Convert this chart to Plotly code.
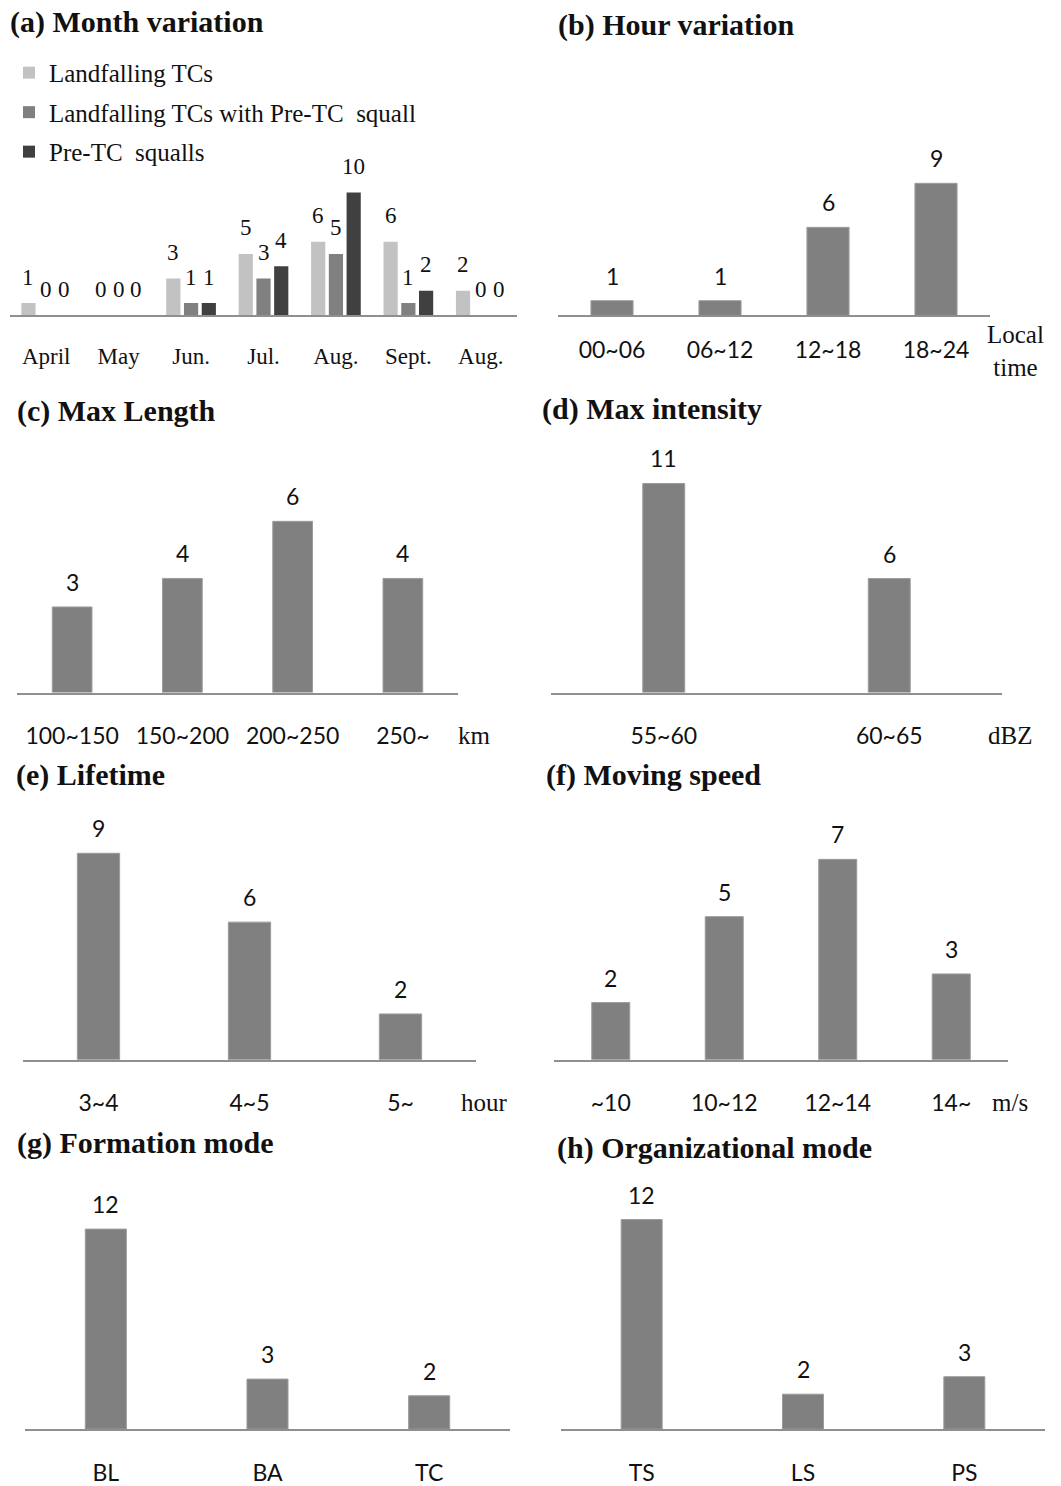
import plotly.graph_objects as go

W, H = 1061, 1486

# ---------------- data ----------------
months = ["April", "May", "Jun.", "Jul.", "Aug.", "Sept.", "Aug."]
series_names = ["Landfalling TCs", "Landfalling TCs with Pre-TC  squall", "Pre-TC  squalls"]
landfalling_tcs = [1, 0, 3, 5, 6, 6, 2]
landfalling_with_squall = [0, 0, 1, 3, 5, 1, 0]
pre_tc_squalls = [0, 0, 1, 4, 10, 2, 0]

hour_cats = ["00~06", "06~12", "12~18", "18~24"]
hour_vals = [1, 1, 6, 9]

length_cats = ["100~150", "150~200", "200~250", "250~"]
length_vals = [3, 4, 6, 4]

intensity_cats = ["55~60", "60~65"]
intensity_vals = [11, 6]

lifetime_cats = ["3~4", "4~5", "5~"]
lifetime_vals = [9, 6, 2]

speed_cats = ["~10", "10~12", "12~14", "14~"]
speed_vals = [2, 5, 7, 3]

formation_cats = ["BL", "BA", "TC"]
formation_vals = [12, 3, 2]

org_cats = ["TS", "LS", "PS"]
org_vals = [12, 2, 3]

# ---------------- styling ----------------
SERIF = "Liberation Serif, Times New Roman, serif"
SANS = "Lato, Open Sans, sans-serif"
TXT = "#111111"
AXIS_COL = "#8f8f8f"
MONTH_COLS = ["#c2c2c2", "#808080", "#404040"]
BAR_COL = "#808080"
SANS_SIZE = 23

fig = go.Figure()
annotations = []


def px_dom_x(x0, x1):
    return [x0 / W, x1 / W]


def setup_axes(idx, x0, x1, yb, k, top_px, tick_font, standoff, numeric=None):
    xname = "xaxis" if idx == 1 else f"xaxis{idx}"
    yname = "yaxis" if idx == 1 else f"yaxis{idx}"
    xa = dict(domain=px_dom_x(x0, x1), anchor=f"y{idx}" if idx > 1 else "y",
              showline=True, linecolor=AXIS_COL, linewidth=2, showgrid=False,
              zeroline=False, ticks="", tickfont=tick_font,
              ticklabelstandoff=standoff, fixedrange=True)
    if numeric is not None:
        xa.update(type="linear", range=[-0.5, len(numeric) - 0.5],
                  tickvals=list(range(len(numeric))), ticktext=numeric)
    else:
        xa.update(type="category")
    ya = dict(domain=[1 - yb / H, 1 - top_px / H], anchor=f"x{idx}" if idx > 1 else "x",
              range=[0, (yb - top_px) / k], visible=False, fixedrange=True)
    fig.layout[xname] = xa
    fig.layout[yname] = ya


def add_title(text, x_px, y_px):
    annotations.append(dict(text=f"<b>{text}</b>", x=x_px / W, y=1 - y_px / H,
                            xref="paper", yref="paper", xanchor="left", yanchor="middle",
                            showarrow=False, font=dict(family=SERIF, size=30, color=TXT)))


def add_unit(text, x_px, y_px, size=25):
    annotations.append(dict(text=text, x=x_px / W, y=1 - y_px / H,
                            xref="paper", yref="paper", xanchor="center", yanchor="middle",
                            showarrow=False, font=dict(family=SERIF, size=size, color=TXT)))


def single_panel(idx, cats, vals, x0, x1, yb, k, barw, standoff):
    setup_axes(idx, x0, x1, yb, k, yb - 240, dict(family=SANS, size=SANS_SIZE, color=TXT), standoff)
    xr = "x" if idx == 1 else f"x{idx}"
    yr = "y" if idx == 1 else f"y{idx}"
    fig.add_trace(go.Bar(x=cats, y=vals, xaxis=xr, yaxis=yr, width=barw,
                         marker=dict(color=BAR_COL, line=dict(color="#9c9c9c", width=1)),
                         showlegend=False, hoverinfo="skip"))
    for c, v in zip(cats, vals):
        annotations.append(dict(text=str(v), x=c, y=v, xref=xr, yref=yr,
                                yanchor="middle", yshift=25, showarrow=False,
                                font=dict(family=SANS, size=SANS_SIZE, color=TXT)))


# ---------------- panel (a) ----------------
setup_axes(1, 10, 517, 316, 12.3, 176, dict(family=SERIF, size=23, color=TXT), 19, numeric=months)
month_series = [landfalling_tcs, landfalling_with_squall, pre_tc_squalls]
pitch = 0.245
for s, (name, vals, col) in enumerate(zip(series_names, month_series, MONTH_COLS)):
    fig.add_trace(go.Bar(x=list(range(len(months))), y=vals, name=name, xaxis="x", yaxis="y",
                         marker=dict(color=col, line=dict(width=0)),
                         legendgroup=f"g{s}", hoverinfo="skip"))
    for i, v in enumerate(vals):
        annotations.append(dict(text=str(v), x=i + (s - 1) * pitch, y=v, xref="x", yref="y",
                                yanchor="middle", yshift=26, showarrow=False,
                                font=dict(family=SERIF, size=23, color=TXT)))
add_title("(a) Month variation", 8, 22)

# ---------------- other panels ----------------
single_panel(2, hour_cats, hour_vals, 558, 990, 316, 14.7, 0.39, 13)
add_title("(b) Hour variation", 556, 25)
add_unit("Local<br>time", 1015, 352)

single_panel(3, length_cats, length_vals, 17, 458, 694, 28.6, 0.36, 22)
add_title("(c) Max Length", 15, 412)
add_unit("km", 474, 737)

single_panel(4, intensity_cats, intensity_vals, 551, 1002, 694, 19.05, 0.186, 22)
add_title("(d) Max intensity", 540, 410)
add_unit("dBZ", 1010, 737)

single_panel(5, lifetime_cats, lifetime_vals, 23, 476, 1062, 23.0, 0.28, 22)
add_title("(e) Lifetime", 14, 777)
add_unit("hour", 484, 1105)

single_panel(6, speed_cats, speed_vals, 554, 1008, 1062, 28.7, 0.335, 22)
add_title("(f) Moving speed", 544, 777)
add_unit("m/s", 1010, 1105)

single_panel(7, formation_cats, formation_vals, 25, 510, 1432, 16.7, 0.254, 22)
add_title("(g) Formation mode", 15, 1145)

single_panel(8, org_cats, org_vals, 561, 1045, 1432, 17.5, 0.254, 22)
add_title("(h) Organizational mode", 555, 1150)

fig.update_layout(
    width=W, height=H,
    margin=dict(l=0, r=0, t=0, b=0),
    paper_bgcolor="white", plot_bgcolor="rgba(0,0,0,0)",
    barmode="group", bargap=0.265, bargroupgap=0.2,
    annotations=annotations,
    showlegend=True,
    legend=dict(x=9 / W, y=1 - 50 / H, xanchor="left", yanchor="top",
                bgcolor="rgba(0,0,0,0)", tracegroupgap=4, itemwidth=30,
                font=dict(family=SERIF, size=25, color=TXT)),
)

fig.write_html("out.html")
